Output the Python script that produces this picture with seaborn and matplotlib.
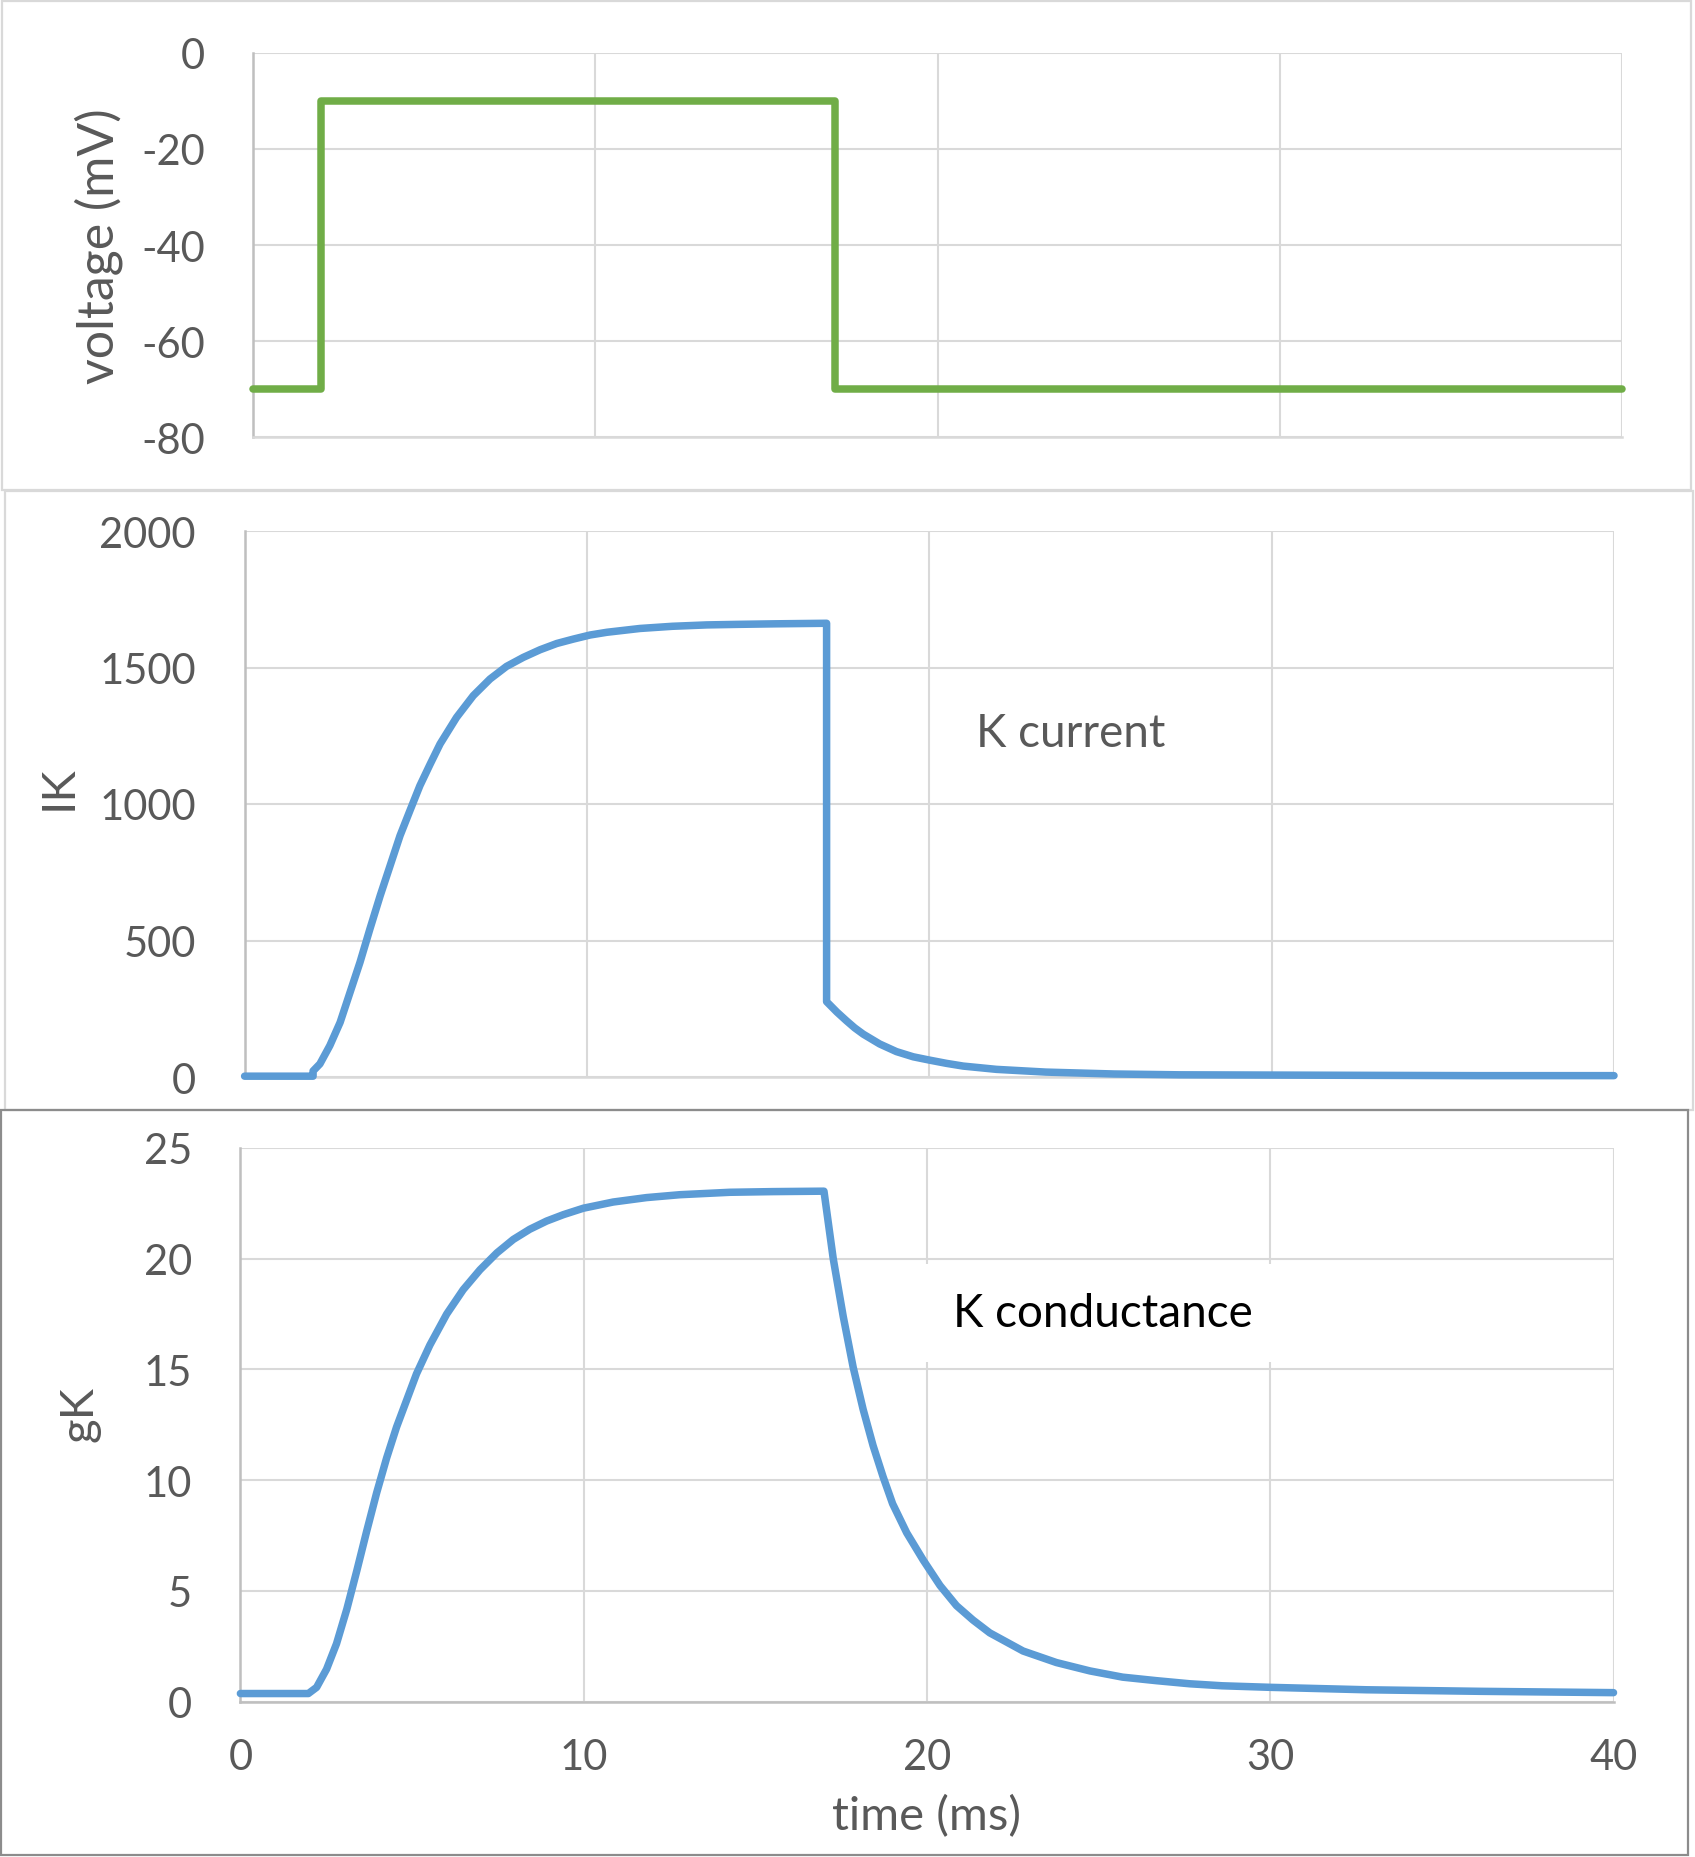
import matplotlib
matplotlib.use("Agg")
import matplotlib.pyplot as plt
from matplotlib.patches import Rectangle
import seaborn as sns

# voltage clamp step
volt_t = [0, 2, 2, 17, 17, 40]
volt_mv = [-70, -70, -10, -10, -70, -70]

# K current
ik_t = [0, 2.0, 2.0, 2.2, 2.49, 2.79, 3.08, 3.37, 3.66, 3.96, 4.25, 4.54, 4.83,
        5.12, 5.42, 5.71, 6.19, 6.68, 7.17, 7.65, 8.14, 8.63, 9.12, 9.6, 10.09,
        10.58, 11.55, 12.5, 13.5, 14.4, 15.5, 17.0, 17.0, 17.3, 17.58, 17.82, 18.07,
        18.55, 19.04, 19.53, 20.0, 20.5, 20.99, 21.96, 23.4, 25.4, 27.3, 30.2,
        33.0, 36.0, 40.0]
ik_val = [3, 3, 22, 48, 115, 200, 310, 420, 542, 664, 774, 884, 976,
          1067, 1146, 1220, 1317, 1397, 1458, 1504, 1537, 1565, 1588, 1604, 1619,
          1629, 1643, 1651, 1656, 1658, 1660, 1662, 276, 238, 206, 180, 157,
          121, 93, 74, 62, 50, 40, 28, 18, 11, 8, 7,
          6, 5, 5]

# K conductance
gk_t = [0, 1.98, 2.22, 2.51, 2.8, 3.1, 3.39, 3.68, 3.97, 4.26, 4.55, 4.84, 5.13,
        5.52, 6.01, 6.49, 6.98, 7.47, 7.95, 8.43, 8.92, 9.41, 9.99, 10.86, 11.83,
        12.8, 14.26, 15.5, 17.0, 17.27, 17.56, 17.85, 18.14, 18.43, 18.72, 19.0,
        19.41, 19.89, 20.38, 20.86, 21.34, 21.83, 22.8, 23.77, 24.75, 25.7, 26.69,
        27.66, 28.6, 30.0, 32.8, 36.1, 40.0]
gk_val = [0.36, 0.36, 0.64, 1.46, 2.61, 4.17, 5.9, 7.7, 9.43, 11.0, 12.4, 13.6, 14.8,
          16.1, 17.5, 18.6, 19.5, 20.26, 20.87, 21.33, 21.7, 21.99, 22.28, 22.56, 22.76,
          22.89, 23.0, 23.03, 23.05, 20.0, 17.4, 15.1, 13.2, 11.56, 10.16, 8.93,
          7.62, 6.39, 5.24, 4.33, 3.68, 3.10, 2.28, 1.76, 1.38, 1.10, 0.94,
          0.80, 0.71, 0.64, 0.53, 0.46, 0.40]

time_ticks = [0, 10, 20, 30, 40]

sns.set_theme(style="white")
plt.rcParams["font.family"] = ["Lato", "DejaVu Sans"]
plt.rcParams["axes.unicode_minus"] = False

W, H = 1695, 1858
GRID = "#d9d9d9"
AXIS = "#bfbfbf"
TXT = "#595959"
BLUE = "#5b9bd5"
GREEN = "#70ad47"
LW = 5.4

fig = plt.figure(figsize=(W / 100, H / 100), dpi=100)


def px_box(left, top, right, bottom):
    return [left / W, 1 - bottom / H, (right - left) / W, (bottom - top) / H]


def frame(left, top, right, bottom, color):
    fig.add_artist(Rectangle((left / W, 1 - bottom / H), (right - left) / W,
                             (bottom - top) / H, transform=fig.transFigure,
                             fill=False, edgecolor=color, linewidth=1.6))


def style_axes(ax, ylim, yticks, bottom_col):
    ax.set_xlim(0, 40)
    ax.set_ylim(*ylim)
    ax.set_xticks(time_ticks)
    ax.set_yticks(yticks)
    ax.grid(True, color=GRID, linewidth=1.5)
    ax.set_axisbelow(True)
    for side in ["top", "right"]:
        ax.spines[side].set_visible(False)
    ax.spines["left"].set_color(AXIS)
    ax.spines["left"].set_linewidth(1.8)
    ax.spines["bottom"].set_color(bottom_col)
    ax.spines["bottom"].set_linewidth(1.8)
    ax.tick_params(labelsize=30, colors=TXT, length=0)
    for ln in ax.get_lines():
        ln.set_linewidth(LW)
        ln.set_zorder(3)
        ln.set_clip_on(False)
        ln.set_solid_capstyle("round")
        ln.set_solid_joinstyle("round")


# panel frames
frame(2, 2, 1691, 491, GRID)
frame(5, 492, 1693, 1111, GRID)
frame(1, 1111, 1688, 1856, "#8c8c8c")

# top: voltage
ax1 = fig.add_axes(px_box(253, 54, 1622, 438))
sns.lineplot(x=volt_t, y=volt_mv, ax=ax1, color=GREEN, lw=LW,
             estimator=None, sort=False)
style_axes(ax1, (-80, 0), [-80, -60, -40, -20, 0], GRID)
ax1.tick_params(axis="y", length=11.5, width=1.5, color="#d0d0d0", pad=23)
ax1.tick_params(axis="x", labelbottom=False)
ax1.set_ylabel("voltage (mV)", fontsize=36, color=TXT)
ax1.yaxis.label.set_va("center")
ax1.yaxis.set_label_coords(-0.113, 0.5)

# middle: K current
ax2 = fig.add_axes(px_box(244.6, 532, 1614, 1078))
sns.lineplot(x=ik_t, y=ik_val, ax=ax2, color=BLUE, lw=LW,
             estimator=None, sort=False)
style_axes(ax2, (0, 2000), [0, 500, 1000, 1500, 2000], GRID)
ax2.tick_params(axis="y", pad=35)
ax2.tick_params(axis="x", labelbottom=False)
ax2.set_ylabel("IK", fontsize=34, color=TXT)
ax2.yaxis.label.set_va("center")
ax2.yaxis.set_label_coords(-0.1355, 0.532)
ax2.text(21.35, 1214, "K current", fontsize=33, color=TXT, ha="left", va="baseline")

# bottom: K conductance
ax3 = fig.add_axes(px_box(240.4, 1149, 1613.5, 1702.5))
sns.lineplot(x=gk_t, y=gk_val, ax=ax3, color=BLUE, lw=LW,
             estimator=None, sort=False)
style_axes(ax3, (0, 25), [0, 5, 10, 15, 20, 25], AXIS)
ax3.tick_params(axis="y", pad=35)
ax3.tick_params(axis="x", pad=26)
ax3.set_ylabel("gK", fontsize=34, color=TXT)
ax3.yaxis.label.set_va("center")
ax3.yaxis.set_label_coords(-0.1175, 0.522)
ax3.set_xlabel("time (ms)", fontsize=34, color=TXT)
ax3.xaxis.label.set_va("center")
ax3.xaxis.set_label_coords(0.5, -0.207)
ax3.text(20.75, 16.97, "K conductance", fontsize=33, color="black",
         ha="left", va="baseline", zorder=4,
         bbox=dict(facecolor="white", edgecolor="none", pad=20))

fig.savefig("out.png", dpi=100)
